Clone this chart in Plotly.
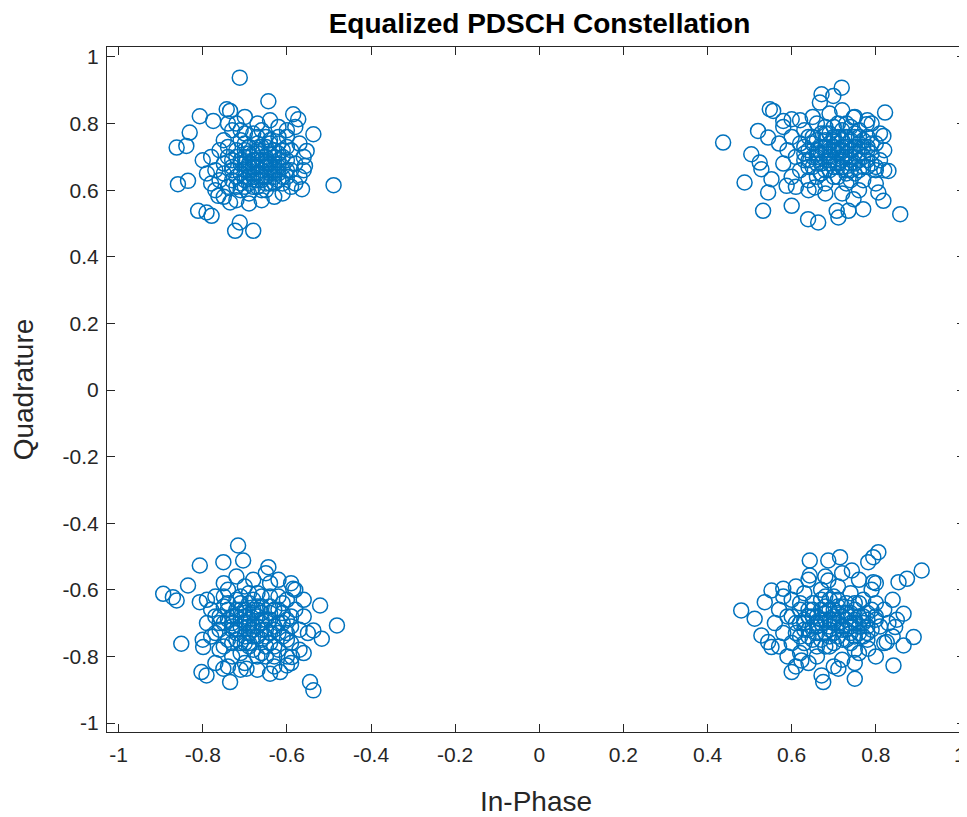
import plotly.graph_objects as go

# Tick values / labels
tick_vals = [-1, -0.8, -0.6, -0.4, -0.2, 0, 0.2, 0.4, 0.6, 0.8, 1]
tick_text = ["-1", "-0.8", "-0.6", "-0.4", "-0.2", "0", "0.2", "0.4", "0.6", "0.8", "1"]

# Cluster upper-left (In-Phase, Quadrature)
ul_i = [-0.712, -0.644, -0.807, -0.775, -0.743, -0.735, -0.585, -0.573, -0.537, -0.831, -0.862, -0.839,
        -0.553, -0.557, -0.489, -0.859, -0.835, -0.564, -0.811, -0.791, -0.779, -0.712, -0.723, -0.680,
        -0.763, -0.735,
        -0.78, -0.77, -0.76, -0.76, -0.75, -0.75, -0.74, -0.74, -0.73, -0.73, -0.72, -0.72, -0.71, -0.71,
        -0.71, -0.70, -0.70, -0.70, -0.69, -0.69, -0.69, -0.68, -0.68, -0.68, -0.67, -0.67, -0.67, -0.66,
        -0.66, -0.66, -0.65, -0.65, -0.65, -0.64, -0.64, -0.63, -0.63, -0.62, -0.62, -0.61, -0.61, -0.60,
        -0.60, -0.59, -0.59, -0.58, -0.57, -0.57, -0.79, -0.80, -0.77, -0.74, -0.72, -0.70, -0.67, -0.64,
        -0.62, -0.60, -0.58, -0.56, -0.56, -0.58, -0.61, -0.63, -0.66, -0.69, -0.72, -0.75, -0.78, -0.71,
        -0.69, -0.67, -0.65, -0.63, -0.64, -0.68, -0.66, -0.70, -0.73, -0.62, -0.60, -0.75, -0.65, -0.67,
        -0.73, -0.72, -0.71, -0.70, -0.69, -0.68, -0.67, -0.66, -0.65, -0.64, -0.63, -0.62, -0.61, -0.60, -0.59,
        -0.72, -0.70, -0.68, -0.66, -0.64, -0.62, -0.60, -0.71, -0.69, -0.67, -0.65, -0.63, -0.61,
        -0.74, -0.73, -0.70, -0.68, -0.66, -0.64, -0.62, -0.69, -0.67, -0.65, -0.63, -0.71,
        -0.68, -0.66, -0.64, -0.70, -0.62, -0.67, -0.65, -0.69, -0.63, -0.61]
ul_q = [0.938, 0.867, 0.822, 0.808, 0.843, 0.838, 0.828, 0.813, 0.768, 0.773, 0.728, 0.733,
        0.718, 0.673, 0.615, 0.618, 0.628, 0.603, 0.538, 0.533, 0.523, 0.503, 0.478, 0.478,
        0.583, 0.563,
        0.70, 0.66, 0.72, 0.63, 0.68, 0.75, 0.61, 0.70, 0.66, 0.78, 0.64, 0.72, 0.60, 0.68,
        0.75, 0.63, 0.70, 0.66, 0.73, 0.59, 0.68, 0.64, 0.71, 0.77, 0.61, 0.67, 0.69, 0.63,
        0.73, 0.66, 0.70, 0.60, 0.76, 0.65, 0.68, 0.72, 0.62, 0.67, 0.74, 0.64, 0.70, 0.78,
        0.66, 0.61, 0.72, 0.68, 0.74, 0.64, 0.65, 0.69, 0.60, 0.80, 0.80, 0.82, 0.80, 0.81,
        0.79, 0.76, 0.79, 0.70, 0.66, 0.62, 0.59, 0.58, 0.57, 0.56, 0.57, 0.58, 0.62, 0.65,
        0.62, 0.74, 0.64, 0.68, 0.71, 0.67, 0.69, 0.72, 0.69, 0.65, 0.69, 0.65, 0.67, 0.63,
        0.67, 0.70, 0.62, 0.74, 0.66, 0.69, 0.72, 0.60, 0.68, 0.75, 0.65, 0.71, 0.62, 0.73, 0.66,
        0.61, 0.77, 0.65, 0.78, 0.62, 0.69, 0.64, 0.69, 0.71, 0.65, 0.73, 0.64, 0.67,
        0.73, 0.63, 0.68, 0.61, 0.71, 0.67, 0.76, 0.64, 0.76, 0.62, 0.70, 0.78,
        0.69, 0.64, 0.74, 0.61, 0.63, 0.71, 0.69, 0.67, 0.66, 0.72]

# Cluster upper-right
ur_i = [0.437, 0.719, 0.671, 0.699, 0.667, 0.548, 0.556, 0.822, 0.580, 0.600, 0.747, 0.778, 0.520,
        0.544, 0.818, 0.504, 0.524, 0.528, 0.830, 0.488, 0.552, 0.588, 0.544, 0.600, 0.532, 0.639,
        0.663, 0.707, 0.711, 0.747, 0.770, 0.735, 0.806, 0.818, 0.858, 0.655,
        0.61, 0.62, 0.62, 0.63, 0.63, 0.64, 0.64, 0.65, 0.65, 0.66, 0.66, 0.66, 0.67, 0.67, 0.68,
        0.68, 0.68, 0.69, 0.69, 0.70, 0.70, 0.70, 0.71, 0.71, 0.72, 0.72, 0.73, 0.73, 0.73, 0.74,
        0.74, 0.75, 0.75, 0.76, 0.76, 0.77, 0.77, 0.78, 0.78, 0.79, 0.79, 0.80, 0.80, 0.81, 0.81,
        0.60, 0.60, 0.59, 0.58, 0.57, 0.58, 0.62, 0.65, 0.69, 0.72, 0.75, 0.78, 0.82, 0.82, 0.80,
        0.76, 0.72, 0.68, 0.64, 0.61, 0.69, 0.71, 0.73, 0.67, 0.70, 0.72, 0.68, 0.74, 0.66, 0.71,
        0.75, 0.77, 0.64, 0.69, 0.73, 0.63, 0.76,
        0.63, 0.64, 0.65, 0.66, 0.67, 0.68, 0.69, 0.70, 0.71, 0.72, 0.73, 0.74, 0.75, 0.76, 0.77, 0.78, 0.79,
        0.64, 0.66, 0.68, 0.70, 0.72, 0.74, 0.76, 0.78, 0.80,
        0.65, 0.67, 0.69, 0.71, 0.73, 0.75, 0.77, 0.79,
        0.68, 0.70, 0.72, 0.74, 0.66, 0.76, 0.71, 0.69, 0.73, 0.75, 0.67, 0.70, 0.72, 0.78, 0.74, 0.71]
ur_q = [0.743, 0.908, 0.888, 0.883, 0.863, 0.843, 0.838, 0.833, 0.808, 0.813, 0.818, 0.798, 0.778,
        0.758, 0.763, 0.708, 0.683, 0.663, 0.658, 0.623, 0.633, 0.613, 0.593, 0.553, 0.538, 0.513,
        0.503, 0.538, 0.518, 0.573, 0.543, 0.538, 0.593, 0.568, 0.528, 0.608,
        0.70, 0.74, 0.66, 0.78, 0.69, 0.63, 0.72, 0.76, 0.67, 0.80, 0.70, 0.64, 0.73, 0.68, 0.77,
        0.62, 0.71, 0.66, 0.74, 0.69, 0.79, 0.72, 0.64, 0.76, 0.70, 0.67, 0.73, 0.80, 0.62, 0.68,
        0.75, 0.71, 0.65, 0.78, 0.69, 0.73, 0.63, 0.67, 0.76, 0.71, 0.80, 0.66, 0.74, 0.69, 0.77,
        0.76, 0.64, 0.72, 0.68, 0.74, 0.79, 0.81, 0.82, 0.83, 0.84, 0.82, 0.81, 0.72, 0.66, 0.62,
        0.60, 0.59, 0.59, 0.60, 0.61, 0.70, 0.72, 0.70, 0.71, 0.67, 0.75, 0.73, 0.72, 0.68, 0.68,
        0.68, 0.70, 0.69, 0.77, 0.65, 0.73, 0.74,
        0.71, 0.67, 0.74, 0.72, 0.65, 0.79, 0.68, 0.75, 0.71, 0.78, 0.66, 0.70, 0.76, 0.66, 0.75, 0.69, 0.74,
        0.76, 0.75, 0.66, 0.64, 0.73, 0.79, 0.71, 0.72, 0.67,
        0.70, 0.77, 0.72, 0.67, 0.76, 0.73, 0.67, 0.68,
        0.75, 0.73, 0.69, 0.66, 0.71, 0.76, 0.74, 0.69, 0.71, 0.77, 0.65, 0.76, 0.72, 0.73, 0.63, 0.80]

# Cluster lower-left
ll_i = [-0.716, -0.704, -0.807, -0.751, -0.835, -0.894, -0.871, -0.862, -0.807, -0.644, -0.585, -0.521,
        -0.537, -0.517, -0.481, -0.851, -0.799, -0.803, -0.791, -0.751, -0.735, -0.696, -0.640, -0.616,
        -0.588, -0.545, -0.537, -0.600,
        -0.79, -0.78, -0.78, -0.77, -0.77, -0.76, -0.76, -0.75, -0.75, -0.74, -0.74, -0.73, -0.73, -0.72,
        -0.72, -0.71, -0.71, -0.70, -0.70, -0.70, -0.69, -0.69, -0.68, -0.68, -0.67, -0.67, -0.66, -0.66,
        -0.65, -0.65, -0.64, -0.64, -0.63, -0.63, -0.62, -0.62, -0.61, -0.61, -0.60, -0.60, -0.59, -0.59,
        -0.58, -0.58, -0.57, -0.57, -0.56, -0.80, -0.79, -0.77, -0.75, -0.72, -0.68, -0.65, -0.62, -0.59,
        -0.56, -0.55, -0.56, -0.59, -0.63, -0.67, -0.71, -0.74, -0.69, -0.67, -0.71, -0.66, -0.68, -0.73,
        -0.64, -0.70, -0.62, -0.66, -0.74, -0.69, -0.72, -0.64, -0.60, -0.76, -0.71, -0.67,
        -0.77, -0.76, -0.75, -0.74, -0.73, -0.72, -0.71, -0.70, -0.69, -0.68, -0.67, -0.66, -0.65, -0.64,
        -0.63, -0.62, -0.61, -0.60, -0.59,
        -0.75, -0.73, -0.71, -0.69, -0.67, -0.65, -0.63, -0.61,
        -0.74, -0.72, -0.70, -0.68, -0.66, -0.64, -0.62,
        -0.70, -0.68, -0.66, -0.72, -0.64, -0.69, -0.67, -0.71, -0.65, -0.73, -0.63, -0.68, -0.70, -0.66, -0.60]
ll_q = [-0.467, -0.512, -0.527, -0.517, -0.587, -0.612, -0.622, -0.632, -0.637, -0.532, -0.597, -0.647,
        -0.722, -0.747, -0.707, -0.762, -0.772, -0.847, -0.857, -0.837, -0.877, -0.837, -0.852, -0.847,
        -0.802, -0.877, -0.902, -0.827,
        -0.70, -0.66, -0.74, -0.68, -0.62, -0.72, -0.78, -0.65, -0.70, -0.60, -0.75, -0.68, -0.80, -0.63,
        -0.72, -0.66, -0.76, -0.59, -0.70, -0.82, -0.64, -0.73, -0.67, -0.78, -0.61, -0.71, -0.75, -0.65,
        -0.69, -0.80, -0.58, -0.73, -0.66, -0.77, -0.62, -0.70, -0.74, -0.67, -0.80, -0.63, -0.71, -0.76,
        -0.66, -0.60, -0.72, -0.78, -0.68, -0.75, -0.63, -0.82, -0.58, -0.56, -0.57, -0.55, -0.57, -0.58,
        -0.63, -0.73, -0.79, -0.82, -0.83, -0.84, -0.84, -0.83, -0.69, -0.68, -0.71, -0.72, -0.74, -0.70,
        -0.69, -0.66, -0.73, -0.62, -0.66, -0.77, -0.75, -0.65, -0.69, -0.68, -0.62, -0.80,
        -0.73, -0.70, -0.77, -0.64, -0.72, -0.68, -0.79, -0.67, -0.76, -0.63, -0.74, -0.69, -0.77, -0.62,
        -0.71, -0.78, -0.64, -0.73, -0.68,
        -0.62, -0.76, -0.69, -0.61, -0.66, -0.72, -0.80, -0.70,
        -0.69, -0.66, -0.74, -0.71, -0.79, -0.67, -0.66,
        -0.68, -0.72, -0.70, -0.73, -0.76, -0.71, -0.65, -0.64, -0.74, -0.71, -0.72, -0.66, -0.76, -0.67, -0.75]

# Cluster lower-right
lr_i = [0.806, 0.794, 0.782, 0.643, 0.687, 0.715, 0.643, 0.743, 0.687, 0.794, 0.909, 0.854, 0.874,
        0.552, 0.580, 0.536, 0.480, 0.512, 0.866, 0.846, 0.528, 0.544, 0.552, 0.890, 0.866, 0.826,
        0.842, 0.600, 0.623, 0.671, 0.675, 0.711, 0.750, 0.782,
        0.56, 0.57, 0.58, 0.59, 0.60, 0.60, 0.61, 0.62, 0.62, 0.63, 0.63, 0.64, 0.65, 0.65, 0.66,
        0.66, 0.67, 0.67, 0.68, 0.68, 0.69, 0.69, 0.70, 0.70, 0.71, 0.71, 0.72, 0.72, 0.73, 0.73,
        0.74, 0.74, 0.75, 0.75, 0.76, 0.76, 0.77, 0.77, 0.78, 0.78, 0.79, 0.79, 0.80, 0.80, 0.81,
        0.82, 0.82, 0.83, 0.58, 0.57, 0.59, 0.61, 0.64, 0.68, 0.72, 0.76, 0.80, 0.84, 0.85, 0.84,
        0.80, 0.75, 0.70, 0.64, 0.61, 0.69, 0.71, 0.67, 0.73, 0.65, 0.70, 0.74, 0.66, 0.72, 0.68,
        0.76, 0.63, 0.78, 0.62, 0.75, 0.69,
        0.60, 0.61, 0.62, 0.63, 0.64, 0.65, 0.66, 0.67, 0.68, 0.69, 0.70, 0.71, 0.72, 0.73, 0.74,
        0.75, 0.76, 0.77, 0.78, 0.79,
        0.62, 0.64, 0.66, 0.68, 0.70, 0.72, 0.74, 0.76, 0.78,
        0.63, 0.65, 0.67, 0.69, 0.71, 0.73, 0.75, 0.77,
        0.68, 0.70, 0.72, 0.66, 0.74, 0.69, 0.71, 0.73, 0.67, 0.75, 0.70, 0.64, 0.80]
lr_q = [-0.487, -0.502, -0.517, -0.512, -0.512, -0.502, -0.557, -0.542, -0.572, -0.577, -0.542, -0.577, -0.567,
        -0.602, -0.597, -0.637, -0.662, -0.687, -0.672, -0.712, -0.737, -0.757, -0.772, -0.742, -0.767, -0.757,
        -0.827, -0.847, -0.812, -0.857, -0.877, -0.837, -0.867, -0.777,
        -0.70, -0.66, -0.73, -0.68, -0.63, -0.76, -0.70, -0.66, -0.79, -0.72, -0.61, -0.68, -0.75, -0.64, -0.70,
        -0.80, -0.66, -0.60, -0.73, -0.69, -0.63, -0.77, -0.70, -0.66, -0.74, -0.59, -0.68, -0.81, -0.64, -0.72,
        -0.76, -0.61, -0.69, -0.66, -0.73, -0.79, -0.63, -0.70, -0.67, -0.75, -0.72, -0.60, -0.68, -0.64, -0.71,
        -0.66, -0.76, -0.70, -0.62, -0.77, -0.80, -0.59, -0.57, -0.56, -0.55, -0.57, -0.58, -0.63, -0.69, -0.74,
        -0.80, -0.82, -0.83, -0.82, -0.83, -0.71, -0.67, -0.70, -0.69, -0.68, -0.73, -0.71, -0.73, -0.65, -0.62,
        -0.68, -0.69, -0.71, -0.74, -0.74, -0.66,
        -0.68, -0.73, -0.64, -0.70, -0.74, -0.66, -0.77, -0.69, -0.65, -0.72, -0.68, -0.63, -0.75, -0.67, -0.70,
        -0.78, -0.64, -0.74, -0.69, -0.66,
        -0.70, -0.66, -0.71, -0.77, -0.62, -0.72, -0.67, -0.71, -0.73,
        -0.76, -0.71, -0.63, -0.69, -0.70, -0.75, -0.64, -0.68,
        -0.67, -0.69, -0.71, -0.68, -0.73, -0.74, -0.65, -0.67, -0.75, -0.70, -0.76, -0.72, -0.69]

all_i = ul_i + ur_i + ll_i + lr_i
all_q = ul_q + ur_q + ll_q + lr_q

FONT = "Liberation Sans, Arial, Helvetica, sans-serif"

fig = go.Figure()
fig.add_trace(go.Scatter(
    x=all_i, y=all_q, mode="markers",
    marker=dict(symbol="circle-open", size=15, color="#0072BD", line=dict(width=1.5, color="#0072BD")),
    showlegend=False, hoverinfo="skip"))

axis_common = dict(
    showline=True, linecolor="#262626", linewidth=1, mirror="ticks",
    ticks="inside", ticklen=8, tickwidth=1, tickcolor="#262626",
    showgrid=False, zeroline=False, automargin=False,
    tickvals=tick_vals, ticktext=tick_text,
    tickfont=dict(family=FONT, size=21, color="#262626"),
)

# page body has an 8px offset; size the figure so it fits inside the 967x817 window
fig.update_layout(
    width=959, height=809,
    paper_bgcolor="white", plot_bgcolor="white",
    margin=dict(l=99, r=2, t=39, b=85),
    title=dict(text="<b>Equalized PDSCH Constellation</b>", x=(539.5 - 8) / 959, xanchor="center",
               xref="container", y=1 - 15 / 809, yref="container", yanchor="middle",
               font=dict(family=FONT, size=28, color="#000000")),
    xaxis=dict(range=[-1.0276, 1.012], ticklabelstandoff=4, **axis_common,
               title=dict(text="In-Phase", standoff=28,
                          font=dict(family=FONT, size=28, color="#262626"))),
    yaxis=dict(range=[-1.027, 1.030], ticklabelstandoff=3, **axis_common,
               title=dict(text="Quadrature", standoff=22,
                          font=dict(family=FONT, size=28, color="#262626"))),
)

fig.write_html("out.html")
